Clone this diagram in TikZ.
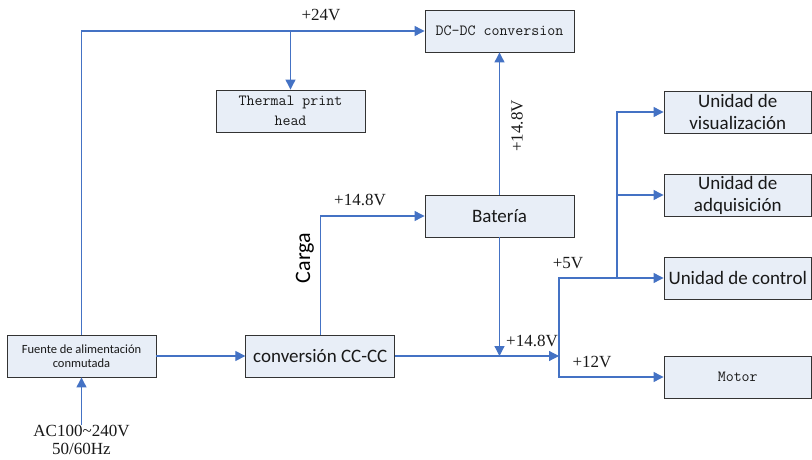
\documentclass[tikz,border=0pt]{standalone}
\usepackage{fontspec}
\setmainfont{Liberation Serif}
\newfontfamily\calibri{Carlito}
\usetikzlibrary{arrows.meta,positioning}
\definecolor{linkblue}{RGB}{68,114,196}
\definecolor{boxfill}{RGB}{232,238,247}

\begin{document}
\begin{tikzpicture}[x=1pt, y=-1pt,
    box/.style={rectangle, draw=black!80, line width=0.9pt, fill=boxfill, minimum width=149pt, minimum height=42pt, inner sep=0pt, align=center, text=black!90},
    unit/.style={box, font=\calibri\fontsize{19}{22}\selectfont},
    mono/.style={box, font=\ttfamily\fontsize{15.5}{20}\selectfont},
    volt/.style={font=\fontsize{17}{19}\selectfont, inner sep=0pt, text=black!90},
    arrow/.style={-{Triangle[length=10pt,width=10pt]}, draw=linkblue, line width=1.2pt}
]
    \useasboundingbox (0,0) rectangle (812,460);

    \node[mono] (dcdc) at (499.5,31) {DC-DC conversion};
    \node[mono] (thermal) at (290.5,111) {Thermal print\\head};
    \node[unit] (bateria) at (499.5,216) {Batería};
    \node[unit, minimum width=147.5pt] (visual) at (737.75,112) {Unidad de\\visualización};
    \node[unit, minimum width=147.5pt] (adquis) at (737.75,195) {Unidad de\\adquisición};
    \node[unit, minimum width=147.5pt] (control) at (737.75,278) {Unidad de control};
    \node[mono, minimum width=147.5pt] (motor) at (737.75,377) {Motor};
    \node[box, font=\calibri\fontsize{12.5}{14}\selectfont] (fuente) at (81.5,356) {Fuente de alimentación\\conmutada};
    \node[unit] (cccc) at (320.3,356) {conversión CC-CC};
    \node[volt, align=center, font=\fontsize{17}{18}\selectfont] (acin) at (81.5,440) {AC100\textasciitilde240V\\50/60Hz};

    \coordinate (join) at (559,356);
    \coordinate (split) at (617,278);

    \draw[arrow] (fuente.north) |- (dcdc.west);
    \draw[arrow] (thermal.north |- dcdc.west) -- (thermal.north);
    \draw[arrow] (bateria.north) -- (dcdc.south);
    \draw[arrow] (cccc.north) |- (bateria.west);
    \draw[arrow] (fuente.east) -- (cccc.west);
    \draw[arrow] (acin.north) -- (fuente.south);
    \draw[arrow] (cccc.east) -- (join);
    \draw[arrow] (bateria.south) -- (bateria.south |- join);
    \draw[arrow] (join) |- (control.west);
    \draw[arrow] (join) |- (motor.west);
    \draw[arrow] (split) |- (visual.west);
    \draw[arrow] (split) |- (adquis.west);

    \node[volt] (v24) at (321,15) {+24V};
    \node[volt, rotate=90] (v148a) at (517,126) {+14.8V};
    \node[volt] (v148b) at (360,200) {+14.8V};
    \node[volt] (v148c) at (532,341) {+14.8V};
    \node[volt] (v5) at (568,263) {+5V};
    \node[volt] (v12) at (592,362) {+12V};
    \node[font=\calibri\fontsize{22}{24}\selectfont, rotate=90, inner sep=0pt] (carga) at (305,258) {Carga};
\end{tikzpicture}
\end{document}
